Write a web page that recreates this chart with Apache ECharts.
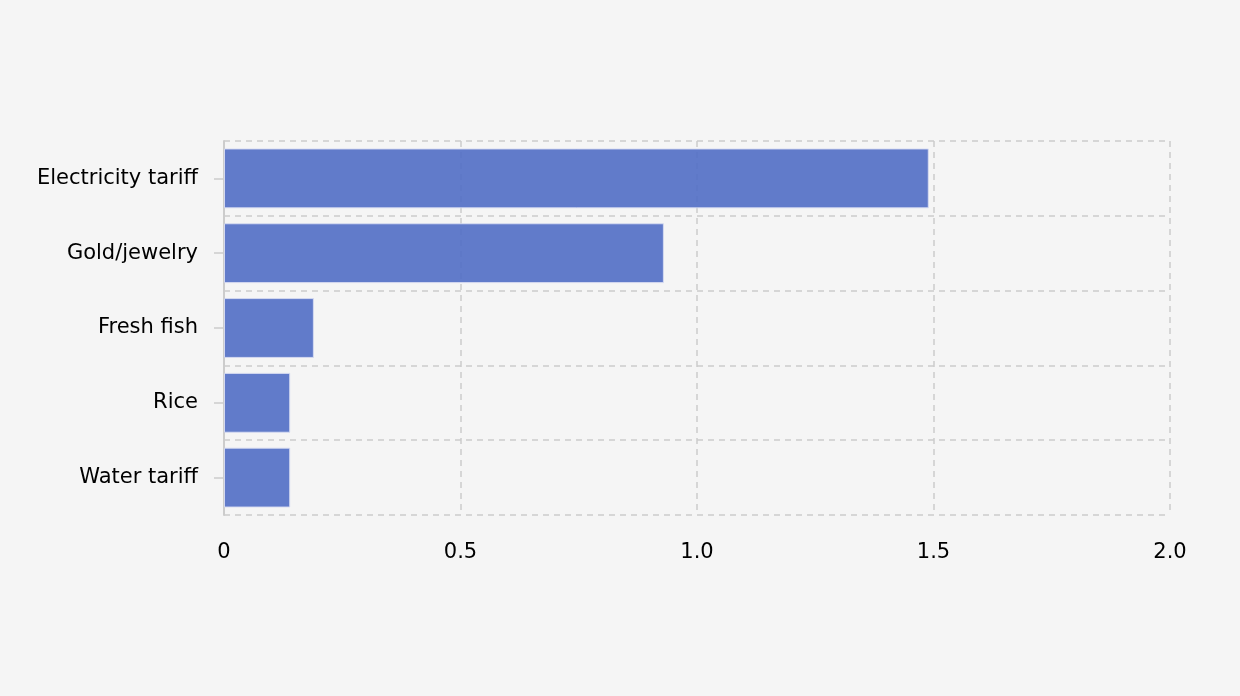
<!DOCTYPE html>
<html>
<head>
<meta charset="utf-8">
<script src="https://cdn.jsdelivr.net/npm/echarts@6/dist/echarts.min.js"></script>
<style>
html,body{margin:0;padding:0;background:#f5f5f5;}
#c{width:1240px;height:696px;}
</style>
</head>
<body>
<div id="c"></div>
<script>
const categories = ["Electricity tariff", "Gold/jewelry", "Fresh fish", "Rice", "Water tariff"];
const values = [1.49, 0.93, 0.19, 0.14, 0.14];
const xTicks = { min: 0, max: 2, interval: 0.5 };

const chart = echarts.init(document.getElementById('c'), null, { renderer: 'canvas' });
chart.setOption({
  backgroundColor: '#f5f5f5',
  animation: false,
  grid: { left: 224, right: 70, top: 141, bottom: 181, containLabel: false },
  xAxis: {
    type: 'value',
    min: xTicks.min, max: xTicks.max, interval: xTicks.interval,
    axisLine: { show: false },
    axisTick: { show: false },
    axisLabel: {
      margin: 27, fontSize: 21, color: '#000', fontFamily: 'DejaVu Sans',
      formatter: v => v === 0 ? '0' : v.toFixed(1)
    },
    splitLine: { show: true, lineStyle: { color: '#cccccc', type: [6, 5], width: 1.5 } }
  },
  yAxis: {
    type: 'category',
    data: categories,
    inverse: true,
    axisLine: { show: true, lineStyle: { color: '#cccccc', width: 2 } },
    axisTick: { show: true, alignWithLabel: true, length: 10, lineStyle: { color: '#cccccc', width: 1.5 } },
    axisLabel: { margin: 26, fontSize: 21, color: '#000', fontFamily: 'DejaVu Sans', padding: [3, 0, 0, 0] },
    splitLine: { show: true, lineStyle: { color: '#cccccc', type: [6, 5], width: 1.5 } }
  },
  series: [{
    type: 'bar',
    data: values,
    barWidth: '80%',
    itemStyle: { color: '#5470c6', opacity: 0.92, borderColor: '#d8dcf2', borderWidth: 1 }
  }]
});
</script>
</body>
</html>
